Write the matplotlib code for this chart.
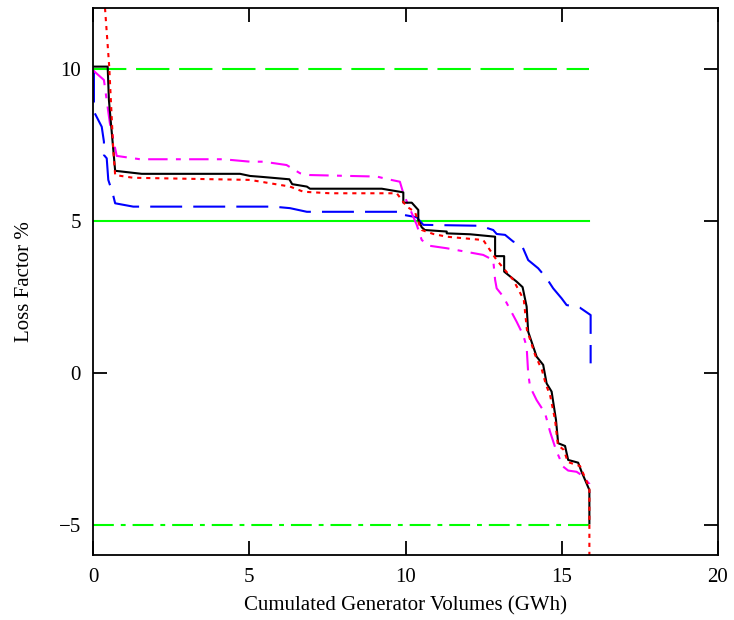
import matplotlib
matplotlib.use("Agg")
import matplotlib.pyplot as plt

plt.rcParams['font.family'] = ['Liberation Serif', 'DejaVu Serif']
plt.rcParams['lines.scale_dashes'] = False

# end of the generator volume axis (GWh) used by the reference lines
x_end = 15.89

# black solid curve
black_x = [0, 0.46, 0.50, 0.70, 1.55, 4.70, 5.02, 5.39, 6.28, 6.37, 6.84, 6.94, 9.24, 9.93, 9.93,
           10.20, 10.41, 10.41, 10.52, 10.62, 11.32, 11.32, 12.07, 12.87, 12.87, 13.16, 13.16,
           13.56, 13.75, 13.88, 13.93, 14.20, 14.41, 14.52, 14.68, 14.82, 14.89, 15.11, 15.21,
           15.53, 15.64, 15.89, 15.89]
black_y = [10.08, 10.08, 8.98, 6.65, 6.55, 6.55, 6.48, 6.45, 6.37, 6.21, 6.13, 6.06, 6.06, 5.94, 5.60,
           5.60, 5.36, 5.03, 4.79, 4.70, 4.65, 4.59, 4.56, 4.48, 3.84, 3.84, 3.33,
           3.00, 2.82, 2.18, 1.35, 0.53, 0.26, -0.35, -0.62, -1.55, -2.32, -2.41, -2.87,
           -2.96, -3.26, -3.86, -4.96]

# red dotted curve
red_x = [0.34, 0.51, 0.64, 0.70, 1.28, 5.02, 6.30, 6.73, 7.58, 9.72, 10.04, 10.30, 10.46, 10.52,
         10.89, 11.32, 12.49, 12.92, 13.45, 13.79, 13.89, 14.15, 14.37, 14.50, 14.63, 14.79,
         14.88, 15.07, 15.20, 15.59, 15.89, 15.89]
red_y = [12.5, 10.08, 7.34, 6.51, 6.42, 6.35, 6.13, 5.96, 5.91, 5.91, 5.47, 5.30, 4.83, 4.70,
         4.57, 4.48, 4.37, 3.71, 3.06, 2.40, 1.41, 0.59, 0.09, -0.40, -0.73, -1.55,
         -2.38, -2.54, -2.94, -3.07, -3.79, -8.0]

# magenta dash-dot curve
mag_x = [0, 0.34, 0.53, 0.75, 1.50, 4.16, 5.02, 5.45, 6.19, 6.62, 6.94, 9.08, 9.45, 9.82, 9.93,
         10.36, 10.52, 10.78, 11.32, 12.49, 12.81, 12.87, 12.92, 13.13, 13.56, 13.77, 13.88,
         13.93, 13.99, 14.20, 14.47, 14.63, 14.82, 15.05, 15.21, 15.48, 15.64, 15.89, 15.89]
mag_y = [9.95, 9.64, 8.22, 7.14, 7.03, 7.03, 6.95, 6.95, 6.84, 6.57, 6.51, 6.46, 6.37, 6.29, 5.91,
         4.87, 4.37, 4.18, 4.10, 3.88, 3.71, 3.06, 2.78, 2.51, 1.68, 1.24, 0.86,
         -0.02, -0.46, -0.90, -1.33, -1.94, -2.54, -3.09, -3.22, -3.26, -3.37, -3.66, -3.96]

# blue long-dash curve
blue_x = [0.02, 0.02, 0.27, 0.34, 0.34, 0.43, 0.48, 0.62, 0.70, 1.28, 5.77, 6.30, 6.84, 9.93, 9.93,
          10.36, 10.57, 12.39, 12.81, 12.92, 13.19, 13.45, 13.72, 13.93, 14.25, 14.52, 14.73,
          15.00, 15.16, 15.59, 15.69, 15.93, 15.93]
blue_y = [9.95, 8.60, 8.10, 7.61, 7.17, 7.06, 6.35, 5.91, 5.58, 5.47, 5.47, 5.42, 5.30, 5.30, 5.20,
          5.12, 4.87, 4.84, 4.70, 4.57, 4.54, 4.32, 4.21, 3.71, 3.44, 3.11, 2.78,
          2.45, 2.23, 2.14, 2.07, 1.90, 0.31]

# horizontal reference levels
ref_levels = [10, 5, -5]

fig = plt.figure(figsize=(7.34, 6.2), dpi=100)
ax = fig.add_axes([93.3 / 734, 1 - 555 / 620, (717.7 - 93.3) / 734, (555 - 8.3) / 620])

lw = 1.5
ax.plot([0, x_end], [ref_levels[0]] * 2, color='#00ff00', lw=lw, ls=(0, (24, 7)))
ax.plot([0, x_end], [ref_levels[1]] * 2, color='#00ff00', lw=lw, ls='-')
ax.plot([0, x_end], [ref_levels[2]] * 2, color='#00ff00', lw=lw, ls=(0, (15, 5, 3.5, 5)))

ax.plot(blue_x, blue_y, color='#0000ff', lw=lw, ls=(0, (23, 8)))
ax.plot(mag_x, mag_y, color='#ff00ff', lw=lw, ls=(0, (14, 6, 3.5, 6)))
ax.plot(black_x, black_y, color='black', lw=lw, ls='-')
ax.plot(red_x, red_y, color='#ff0000', lw=lw, ls=(0, (3, 3.5)))

ax.set_xlim(0, 20)
ax.set_ylim(-6, 12)
ax.set_xticks([0, 5, 10, 15, 20])
ax.set_yticks([-5, 0, 5, 10])
ax.tick_params(direction='in', length=10, width=1.3, top=True, right=True,
               labelsize=15, pad=9)
for s in ax.spines.values():
    s.set_linewidth(1.3)

ax.set_xlabel('Cumulated Generator Volumes (GWh)', fontsize=15, labelpad=7)
ax.set_ylabel('Loss Factor %', fontsize=15, labelpad=18)

fig.savefig('out.png', dpi=100)
